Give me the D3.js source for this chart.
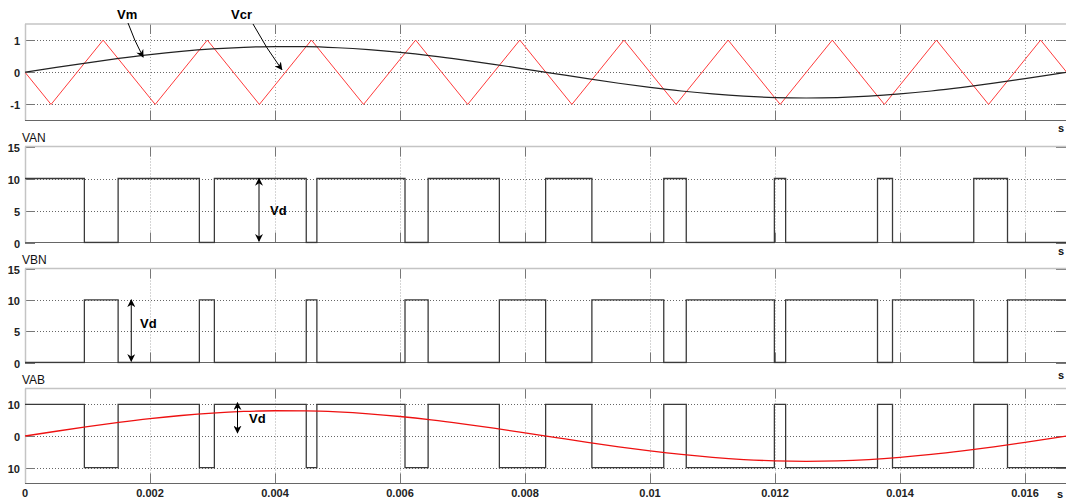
<!DOCTYPE html>
<html>
<head>
<meta charset="utf-8">
<script src="https://cdn.jsdelivr.net/npm/d3@7"></script>
<style>
  html, body { margin: 0; padding: 0; background: #fff; }
  svg { display: block; font-family: "Liberation Sans", Arial, sans-serif; }
</style>
</head>
<body>
<svg id="chart" width="1066" height="500"></svg>
<script>
// ---------------- data ----------------
// time axis ticks (s)
const xTicks = [0, 0.002, 0.004, 0.006, 0.008, 0.010, 0.012, 0.014, 0.016];
const xTickLabels = ["0", "0.002", "0.004", "0.006", "0.008", "0.01", "0.012", "0.014", "0.016"];
const tEnd = 0.016667;

// modulating signal Vm (panel 1)
const tVm = [0, 0.0005, 0.001, 0.0015, 0.002, 0.0025, 0.003, 0.0035, 0.004, 0.0045, 0.005, 0.0055,
  0.006, 0.0065, 0.007, 0.0075, 0.008, 0.0085, 0.009, 0.0095, 0.010, 0.0105, 0.011, 0.0115,
  0.012, 0.0125, 0.013, 0.0135, 0.014, 0.0145, 0.015, 0.0155, 0.016, 0.0165, 0.016667];
const vm = [0, 0.150, 0.294, 0.429, 0.548, 0.647, 0.724, 0.775, 0.798, 0.794, 0.761, 0.701,
  0.616, 0.510, 0.385, 0.247, 0.100, -0.050, -0.199, -0.341, -0.470, -0.583, -0.675, -0.744,
  -0.786, -0.800, -0.786, -0.744, -0.675, -0.583, -0.470, -0.341, -0.199, -0.050, 0];

// triangular carrier Vcr (panel 1): vertices
const tCr = [0, 0.000417, 0.00125, 0.002083, 0.002917, 0.00375, 0.004583, 0.005417, 0.00625,
  0.007083, 0.007917, 0.00875, 0.009583, 0.010417, 0.01125, 0.012083, 0.012917, 0.01375,
  0.014583, 0.015417, 0.01625, 0.016667];
const vcr = [0, -1, 1, -1, 1, -1, 1, -1, 1, -1, 1, -1, 1, -1, 1, -1, 1, -1, 1, -1, 1, 0];

// switching instants (s) and levels after each instant
const tSw = [0, 0.00095, 0.00149, 0.00279, 0.00303, 0.00450, 0.00467, 0.00608, 0.00645, 0.00759,
  0.00833, 0.00907, 0.01022, 0.01058, 0.01199, 0.01217, 0.01364, 0.01388, 0.01518, 0.01572, 0.016667];
const van = [10, 0, 10, 0, 10, 0, 10, 0, 10, 0, 10, 0, 10, 0, 10, 0, 10, 0, 10, 0, 0];
const vbn = [0, 10, 0, 10, 0, 10, 0, 10, 0, 10, 0, 10, 0, 10, 0, 10, 0, 10, 0, 10, 10];
const vab = [10, -10, 10, -10, 10, -10, 10, -10, 10, -10, 10, -10, 10, -10, 10, -10, 10, -10, 10, -10, -10];

// fundamental reference drawn over VAB
const vabRef = [0, 1.50, 2.94, 4.29, 5.48, 6.47, 7.24, 7.75, 7.98, 7.94, 7.61, 7.01,
  6.16, 5.10, 3.85, 2.47, 1.00, -0.50, -1.99, -3.41, -4.70, -5.83, -6.75, -7.44,
  -7.86, -8.00, -7.86, -7.44, -6.75, -5.83, -4.70, -3.41, -1.99, -0.50, 0];

// y ticks per panel
const yTicks1 = [-1, 0, 1];      const yLabels1 = ["-1", "0", "1"];
const yTicks2 = [0, 5, 10, 15];  const yLabels2 = ["0", "5", "10", "15"];
const yTicks3 = [0, 5, 10, 15];  const yLabels3 = ["0", "5", "10", "15"];
const yTicks4 = [-10, 0, 10];    const yLabels4 = ["10", "0", "10"];

const panelNames = ["", "VAN", "VBN", "VAB"];

// ---------------- drawing ----------------
const svg = d3.select("#chart");
const x = d3.scaleLinear().domain([0, tEnd]).range([25, 1066.7]);
const X0 = x.range()[0], X1 = x.range()[1];

const panels = [
  { top: 24,  bottom: 120.5, dom: [-1.5, 1.5], ticks: yTicks1, labels: yLabels1, name: panelNames[0], sY: 128 },
  { top: 146.5, bottom: 242.5, dom: [0, 15], ticks: yTicks2, labels: yLabels2, name: panelNames[1], sY: 251 },
  { top: 268.5, bottom: 362.5, dom: [0, 15], ticks: yTicks3, labels: yLabels3, name: panelNames[2], sY: 375 },
  { top: 388.5, bottom: 483.5, dom: [-15, 15], ticks: yTicks4, labels: yLabels4, name: panelNames[3], sY: null }
];

const defs = svg.append("defs");
defs.append("marker").attr("id", "ah").attr("viewBox", "0 0 10 10")
  .attr("refX", 9).attr("refY", 5).attr("markerWidth", 8).attr("markerHeight", 8)
  .attr("markerUnits", "userSpaceOnUse").attr("orient", "auto-start-reverse")
  .append("path").attr("d", "M0,0 L10,5 L0,10 L3,5 Z").attr("fill", "#000");

panels.forEach((p, i) => {
  p.y = d3.scaleLinear().domain(p.dom).range([p.bottom, p.top]);
  const g = svg.append("g");
  defs.append("clipPath").attr("id", "clip" + i)
    .append("rect").attr("x", X0).attr("y", p.top - 1).attr("width", X1 - X0).attr("height", p.bottom - p.top + 2);

  // grid - horizontal
  p.ticks.forEach(v => {
    const yy = Math.round(p.y(v)) + 0.5;
    if (yy > p.top + 1 && yy < p.bottom - 1) {
      g.append("line").attr("x1", X0).attr("x2", X1).attr("y1", yy).attr("y2", yy)
        .attr("stroke", "#666").attr("stroke-width", 1).attr("stroke-dasharray", "1,2");
    }
  });
  // grid - vertical
  xTicks.forEach(t => {
    if (t === 0) return;
    const xx = Math.round(x(t)) + 0.5;
    g.append("line").attr("x1", xx).attr("x2", xx).attr("y1", p.top).attr("y2", p.bottom)
      .attr("stroke", "#aaa").attr("stroke-width", 1).attr("stroke-dasharray", "1,2");
    g.append("line").attr("x1", xx).attr("x2", xx).attr("y1", p.top).attr("y2", p.top + 10)
      .attr("stroke", "#777").attr("stroke-width", 1);
    g.append("line").attr("x1", xx).attr("x2", xx).attr("y1", p.bottom - 10).attr("y2", p.bottom)
      .attr("stroke", "#777").attr("stroke-width", 1);
  });
  // y ticks + labels
  p.ticks.forEach((v, k) => {
    const yy = Math.round(p.y(v)) + 0.5;
    g.append("line").attr("x1", X0).attr("x2", X0 + 10).attr("y1", yy).attr("y2", yy).attr("stroke", "#777");
    g.append("line").attr("x1", X1 - 10.7).attr("x2", X1).attr("y1", yy).attr("y2", yy).attr("stroke", "#777");
    g.append("text").attr("x", 20).attr("y", yy + 4).attr("text-anchor", "end")
      .attr("font-size", 11).attr("font-weight", "bold").attr("fill", "#222").text(p.labels[k]);
  });
  // frame
  g.append("line").attr("x1", X0).attr("x2", X1).attr("y1", p.top).attr("y2", p.top).attr("stroke", "#c4c4c4").attr("stroke-width", 1.5);
  g.append("line").attr("x1", X0 + 0.5).attr("x2", X0 + 0.5).attr("y1", p.top).attr("y2", p.bottom).attr("stroke", "#c4c4c4").attr("stroke-width", 1.5);
  g.append("line").attr("x1", X0).attr("x2", X1).attr("y1", p.bottom).attr("y2", p.bottom).attr("stroke", "#666").attr("stroke-width", 1.2);

  if (p.name) {
    g.append("text").attr("x", 22).attr("y", p.top - 5).attr("font-size", 12).attr("fill", "#111").text(p.name);
  }
  if (p.sY) {
    g.append("text").attr("x", 1058).attr("y", p.sY + 4).attr("font-size", 11).attr("font-weight", "bold").attr("fill", "#111").text("s");
  }
  p.g = svg.append("g").attr("clip-path", "url(#clip" + i + ")");
});

// x tick labels (bottom)
xTicks.forEach((t, k) => {
  svg.append("text").attr("x", x(t)).attr("y", 497).attr("text-anchor", "middle")
    .attr("font-size", 11).attr("font-weight", "bold").attr("fill", "#222").text(xTickLabels[k]);
});
svg.append("text").attr("x", 1057).attr("y", 498).attr("font-size", 11).attr("font-weight", "bold").attr("fill", "#111").text("s");

// ---- Panel 1 traces
const P1 = panels[0];
const lineSmooth = (ys, yScale) => d3.line().x((d, i) => x(tVm[i])).y(d => yScale(d)).curve(d3.curveMonotoneX)(ys);
P1.g.append("path").attr("d", d3.line().x((d, i) => x(tCr[i])).y(d => P1.y(d))(vcr))
  .attr("fill", "none").attr("stroke", "#ff3b3b").attr("stroke-width", 1);
P1.g.append("path").attr("d", lineSmooth(vm, P1.y))
  .attr("fill", "none").attr("stroke", "#222").attr("stroke-width", 1.2);

// ---- switching traces
const stepPath = (vals, yScale) => d3.line().x((d, i) => x(tSw[i])).y(d => yScale(d)).curve(d3.curveStepAfter)(vals);
[[panels[1], van], [panels[2], vbn], [panels[3], vab]].forEach(([p, vals]) => {
  p.g.append("path").attr("d", stepPath(vals, p.y))
    .attr("fill", "none").attr("stroke", "#3a3a3a").attr("stroke-width", 1.3);
});
const P4 = panels[3];
P4.g.append("path").attr("d", lineSmooth(vabRef, P4.y))
  .attr("fill", "none").attr("stroke", "#ee1111").attr("stroke-width", 1.3);

// ---- annotations
function bold(txt, px, py) {
  svg.append("text").attr("x", px).attr("y", py).attr("font-size", 13).attr("font-weight", "bold")
    .attr("fill", "#000").text(txt);
}
bold("Vm", 117, 19);
svg.append("path").attr("d", `M128,23 Q134,40 ${x(0.00189)},${P1.y(0.47)}`)
  .attr("fill", "none").attr("stroke", "#000").attr("stroke-width", 1).attr("marker-end", "url(#ah)");
bold("Vcr", 231, 19);
svg.append("path").attr("d", `M253,24 Q266,48 ${x(0.00411)},${P1.y(0.08)}`)
  .attr("fill", "none").attr("stroke", "#000").attr("stroke-width", 1).attr("marker-end", "url(#ah)");

function vd(p, t, v0, v1, tx, ty) {
  svg.append("line").attr("x1", x(t)).attr("x2", x(t)).attr("y1", p.y(v0)).attr("y2", p.y(v1))
    .attr("stroke", "#000").attr("stroke-width", 1)
    .attr("marker-start", "url(#ah)").attr("marker-end", "url(#ah)");
  bold("Vd", tx, ty);
}
vd(panels[1], 0.003744, 10, 0.2, 270, 215);
vd(panels[2], 0.0017, 10, 0.2, 140, 328);
vd(panels[3], 0.0034, 10.5, 1, 249, 423);
</script>
</body>
</html>
